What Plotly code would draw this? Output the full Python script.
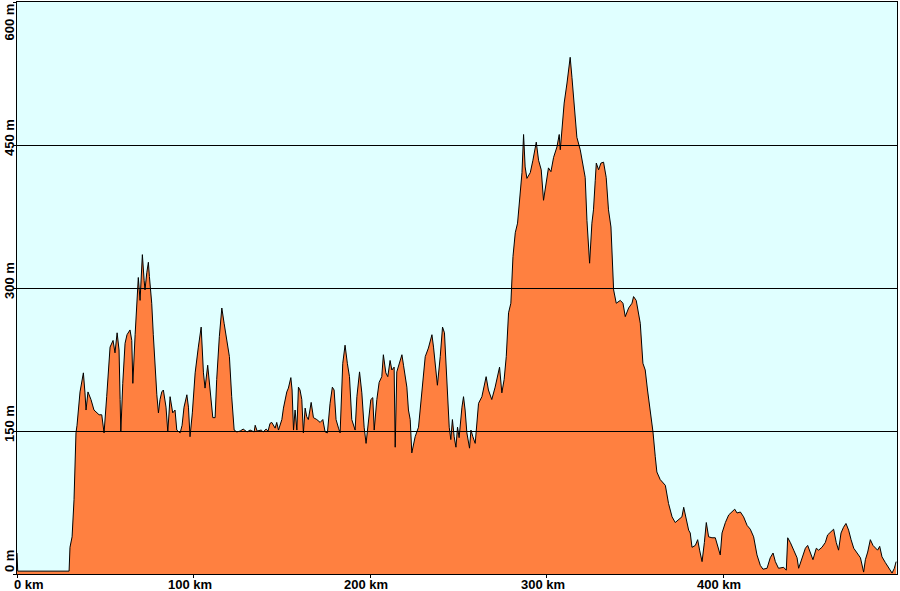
import plotly.graph_objects as go

# distance along route (km)
km = [0, 0.4, 29.5, 30.0, 31.2, 32.3, 33.4, 34.0, 35.7, 37.6, 38.5, 39.1, 40.2, 41.9, 43.6, 45.2, 46.5, 48.0,
      49.3, 50.8, 52.7, 54.4, 55.5, 56.7, 57.8, 58.4, 58.8, 59.9, 61.2, 62.3, 64.0, 65.0, 65.6, 66.9, 67.8,
      68.7, 69.7, 71.0, 72.0, 72.5, 73.5, 74.4, 75.0, 76.3, 77.2, 78.2, 79.2, 80.1, 81.0, 82.0, 82.9, 84.4,
      85.4, 86.7, 88.2, 89.5, 90.5, 92.4, 93.5, 94.6, 96.2, 97.1, 98.0, 99.3, 100.9, 102.7, 104.3, 105.6,
      106.5, 108.0, 109.4, 110.9, 112.2, 113.1, 114.6, 116.0, 117.3, 118.8, 120.3, 121.6, 123.0, 124.5,
      126.4, 128.1, 130.3, 132.0, 134.3, 134.9, 136.0, 138.3, 139.4, 141.1, 142.2, 143.3, 144.3, 146.2,
      147.1, 148.1, 150.0, 150.9, 152.8, 153.7, 155.1, 155.8, 156.6, 157.5, 158.5, 159.4, 160.3, 161.3,
      162.2, 163.2, 164.1, 165.0, 166.6, 167.9, 169.8, 171.7, 173.2, 174.5, 175.8, 177.3, 178.6, 179.6,
      180.7, 182.1, 183.0, 184.5, 185.8, 187.1, 188.3, 189.6, 191.5, 192.5, 194.0, 195.3, 196.6, 197.7,
      199.0, 200.4, 201.5, 202.3, 203.8, 205.1, 206.6, 207.5, 208.9, 210.0, 211.3, 212.3, 213.6, 214.2,
      215.1, 216.6, 218.0, 218.9, 220.8, 221.7, 222.7, 223.6, 225.5, 227.4, 229.3, 231.2, 233.0, 235.0,
      235.9, 237.4, 238.1, 239.7, 241.0, 242.1, 243.5, 244.8, 245.7, 246.6, 247.6, 248.6, 249.5, 250.4,
      252.0, 252.9, 253.8, 254.8, 256.3, 257.1, 258.2, 259.5, 261.4, 263.3, 265.7, 267.0, 268.9, 270.8,
      273.3, 274.6, 275.9, 277.1, 278.4, 279.7, 280.9, 282.2, 283.5, 284.6, 286.0, 286.9, 287.8, 288.8,
      290.7, 292.2, 294.1, 295.4, 296.9, 298.2, 299.7, 301.0, 302.4, 303.9, 305.8, 307.1, 307.7, 308.6,
      309.9, 311.5, 312.4, 313.3, 314.3, 315.6, 317.1, 319.0, 320.9, 321.8, 322.8, 324.3, 325.6, 326.5,
      327.5, 328.1, 329.4, 330.7, 332.2, 333.7, 335.0, 336.4, 337.9, 339.4, 341.7, 343.2, 344.5, 346.4,
      348.3, 349.2, 350.7, 353.0, 354.5, 355.8, 357.1, 358.7, 360.2, 361.5, 362.4, 364.3, 367.2, 369.0,
      371.0, 372.8, 374.7, 376.6, 377.6, 379.1, 380.4, 381.3, 382.3, 384.2, 385.5, 386.6, 388.0, 389.3,
      390.4, 391.7, 393.6, 395.5, 397.4, 398.3, 399.3, 401.2, 403.1, 405.0, 406.5, 407.8, 409.7, 411.5,
      413.5, 415.3, 417.2, 419.1, 421.0, 422.5, 424.8, 426.6, 428.2, 429.5, 431.3, 434.2, 435.7, 436.5,
      438.0, 439.9, 441.8, 442.7, 444.7, 446.5, 447.8, 449.3, 450.8, 452.7, 454.0, 455.9, 457.8, 459.1,
      460.6, 462.5, 464.0, 465.3, 466.7, 468.1, 469.5, 471.0, 472.4, 473.9, 475.8, 477.7, 479.5, 480.5,
      481.8, 483.3, 484.8, 486.1, 487.4, 488.6, 489.9, 491.8, 493.7, 495.6, 496.9, 497.9]

# elevation (m)
elev = [22, 3, 3, 28, 39, 78, 148, 156, 191, 211, 190, 172, 191, 183, 172, 169, 167, 167,
        148, 186, 238, 245, 232, 253, 235, 183, 149, 200, 242, 251, 256, 245, 200, 251, 290,
        311, 287, 335, 308, 298, 316, 327, 312, 284, 251, 214, 188, 169, 183, 191, 193, 175,
        149, 186, 169, 172, 151, 148, 156, 175, 188, 175, 144, 169, 211, 238, 259, 211,
        195, 219, 190, 164, 164, 204, 249, 279, 263, 245, 228, 186, 151, 149,
        150, 152, 149, 151, 149, 156, 150, 151, 149, 152, 150, 158, 159, 153,
        159, 151, 162, 174, 191, 195, 206, 193, 151, 172, 151, 196, 193, 183,
        148, 174, 165, 162, 180, 164, 162, 159, 162, 149, 148, 179, 196, 193,
        162, 153, 148, 221, 240, 221, 207, 162, 151, 186, 212, 190, 154, 137,
        162, 183, 185, 151, 183, 201, 207, 230, 211, 207, 224, 214, 217, 133,
        212, 221, 230, 219, 196, 172, 162, 127, 144, 154, 190, 228, 237, 251,
        238, 211, 198, 228, 259, 253, 196, 154, 141, 162, 144, 133, 154, 143,
        175, 186, 172, 148, 132, 151, 144, 137, 179, 186, 207, 193, 183, 196,
        217, 190, 204, 228, 274, 284, 333, 358, 368, 395, 421, 461, 427, 415,
        421, 434, 453, 434, 424, 392, 413, 426, 422, 437, 448, 461, 445, 469,
        494, 515, 526, 542, 521, 490, 458, 445, 427, 416, 371, 326, 368, 382,
        413, 431, 424, 431, 432, 416, 382, 364, 298, 284, 287, 284, 270, 279,
        284, 291, 287, 263, 221, 214, 193, 172, 149, 123, 107, 99, 93, 74,
        60, 54, 57, 60, 70, 57, 46, 43, 28, 30, 36, 25, 13, 33,
        54, 39, 38, 38, 25, 20, 43, 54, 62, 65, 68, 64, 65, 60,
        51, 47, 39, 20, 9, 5, 6, 17, 22, 13, 6, 7, 4, 38,
        33, 25, 17, 6, 18, 27, 30, 23, 15, 27, 25, 28, 33, 41,
        44, 47, 33, 25, 43, 49, 53, 46, 36, 27, 22, 17, 2, 15,
        23, 36, 30, 28, 25, 29, 18, 12, 7, 1, 6, 13]

y_ticks = [0, 150, 300, 450, 600]
y_labels = ["0 m", "150 m", "300 m", "450 m", "600 m"]
x_ticks = [0, 100, 200, 300, 400]
x_labels = ["0 km", "100 km", "200 km", "300 km", "400 km"]

FONT = dict(family="Arial, Liberation Sans, sans-serif", size=13, color="black")

fig = go.Figure()
fig.add_trace(go.Scatter(
    x=km, y=elev, mode="lines", fill="tozeroy",
    fillcolor="#FF8040", line=dict(color="black", width=1),
    hoverinfo="skip", showlegend=False,
))

# horizontal grid lines drawn above the fill (half-pixel offset keeps them crisp)
shapes = []
for v in y_ticks[1:-1]:
    shapes.append(dict(type="line", xref="paper", x0=0, x1=1,
                       yref="y", ysizemode="pixel", yanchor=v, y0=-0.5, y1=-0.5,
                       line=dict(color="black", width=1), layer="above"))

annotations = []
for v, t in zip(y_ticks, y_labels):
    if v == y_ticks[0]:
        ya, ys = "bottom", 0
    elif v == y_ticks[-1]:
        ya, ys = "top", 0
    else:
        ya, ys = "middle", 7
    annotations.append(dict(text="<b>%s</b>" % t, xref="paper", x=0, xanchor="center", xshift=-8,
                            yref="y", y=v, yanchor=ya, yshift=ys, textangle=-90,
                            showarrow=False, font=FONT))
for v, t in zip(x_ticks, x_labels):
    if v == x_ticks[0]:
        xa, xs = "left", -5
    else:
        xa, xs = "center", -4
    annotations.append(dict(text="<b>%s</b>" % t, xref="x", x=v, xanchor=xa, xshift=xs,
                            yref="paper", y=0, yanchor="top", yshift=-1,
                            showarrow=False, font=FONT))

fig.update_layout(
    width=900, height=591,
    margin=dict(l=17, r=3, t=2, b=17, pad=0, autoexpand=False),
    paper_bgcolor="white",
    plot_bgcolor="#E0FFFF",
    shapes=shapes,
    annotations=annotations,
    hovermode=False,
    xaxis=dict(range=[0, 498.4], showgrid=False, zeroline=False, showline=True, mirror=True,
               linecolor="black", linewidth=1, tickvals=x_ticks, ticks="outside", ticklen=3,
               tickcolor="black", showticklabels=False, layer="above traces", fixedrange=True),
    yaxis=dict(range=[0, 600], showgrid=False, zeroline=False, showline=True, mirror=True,
               linecolor="black", linewidth=1, tickvals=y_ticks, ticks="outside", ticklen=3,
               tickcolor="black", showticklabels=False, layer="above traces", fixedrange=True),
)

fig.write_html("out.html", config={"displayModeBar": False, "staticPlot": True},
               post_script="document.body.style.margin='0';document.body.style.overflow='hidden';")
